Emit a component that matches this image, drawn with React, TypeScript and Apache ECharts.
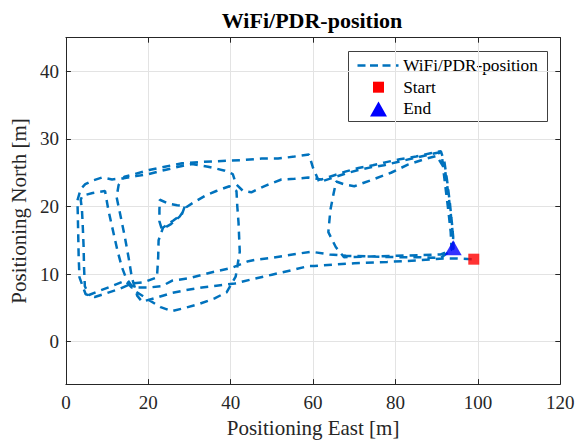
import React, { useEffect, useRef } from "react";
import * as echarts from "echarts";

// Trajectory (Positioning East / North, metres)
const east = [
  // lap 1
  98.5, 95.0, 91.7, 85.0, 78.0, 70.0, 65.0, 60.3, 59.0, 55.0, 50.0, 45.0, 41.0, 37.0, 33.0, 29.0, 25.7, 22.0, 18.5, 17.3,
  16.0, 15.2, 14.3, 13.3, 12.3, 12.8, 14.2, 16.0, 20.2, 24.0, 28.2, 33.0, 39.5, 43.5, 47.5, 51.5, 55.5, 59.0, 60.0, 61.5,
  65.0, 68.0, 71.0, 74.0, 77.2, 80.5, 84.0, 87.5, 90.5, 91.3, 91.7, 92.3, 92.9, 93.4, 93.6,
  // lap 2
  91.0, 86.0, 80.0, 74.0, 67.5, 65.5, 63.7, 64.2, 65.0, 65.6, 67.5, 70.0, 74.5, 78.9, 83.0, 87.0, 90.0, 92.0, 92.8, 93.4,
  93.9, 94.1,
  // lap 3
  91.0, 86.0, 80.0, 74.0, 68.0, 64.0, 59.6, 55.0, 50.0, 46.0, 44.3, 40.2, 35.0, 30.0, 25.7, 23.3, 20.0, 16.0, 14.4, 11.5,
  8.5, 5.6, 4.6, 4.4, 4.3, 4.1, 3.9, 3.6, 4.0, 6.5, 9.5, 10.3, 11.4, 12.5, 13.6, 14.6, 17.0, 20.0, 23.0, 25.7,
  29.0, 32.5, 36.1, 39.0, 41.2, 42.2, 41.9, 41.6, 41.4, 39.7, 36.5, 33.8, 31.0, 29.2, 27.6, 25.5, 23.3, 22.7, 22.7, 22.8,
  25.0, 27.0, 28.9, 28.2, 26.0, 23.6, 22.5, 22.4, 22.1,
  // lap 4
  19.0, 16.0, 13.0, 10.0, 7.0, 4.8, 3.3, 3.1, 3.0, 2.9, 2.8, 3.6, 4.7, 6.8, 8.8, 11.2, 14.0, 17.0, 20.0, 23.3,
  26.0, 28.2, 30.6, 34.5, 38.6, 40.5, 41.3, 43.0, 45.0, 48.5, 52.3, 55.5, 58.8, 62.0, 65.0, 68.0, 71.0, 74.5, 77.2, 81.0,
  85.0, 88.5, 91.0, 91.9, 92.6, 93.2, 93.7, 94.0, 93.9,
];
const north = [
  // lap 1
  12.2, 12.3, 12.3, 12.0, 11.8, 11.6, 11.4, 11.2, 11.2, 10.6, 9.9, 9.2, 8.6, 8.3, 8.0, 7.6, 7.2, 6.5, 5.9, 6.8,
  9.5, 12.5, 15.5, 18.5, 21.4, 23.2, 24.4, 24.7, 25.4, 25.9, 26.4, 26.6, 26.8, 26.9, 27.1, 27.1, 27.4, 27.7, 25.7, 23.6,
  24.3, 24.9, 25.4, 25.8, 26.1, 26.6, 27.1, 27.6, 28.0, 27.3, 25.0, 22.0, 19.0, 16.2, 13.6,
  // lap 2
  12.9, 12.8, 12.7, 12.6, 12.5, 14.0, 16.2, 19.5, 22.0, 23.7, 23.3, 23.0, 24.0, 25.0, 26.2, 27.0, 27.5, 25.5, 22.0, 19.0,
  16.0, 13.8,
  // lap 3
  12.4, 12.5, 12.5, 12.6, 12.7, 12.9, 13.3, 12.9, 12.4, 12.1, 11.9, 10.9, 10.2, 9.4, 9.0, 8.2, 8.0, 8.0, 9.0, 8.3,
  7.6, 6.9, 8.2, 11.0, 14.0, 17.0, 19.5, 21.0, 21.6, 22.0, 22.3, 19.5, 16.5, 13.5, 11.0, 9.4, 7.4, 6.2, 5.1, 4.5,
  5.0, 5.6, 6.4, 7.3, 9.6, 13.3, 17.6, 20.0, 22.3, 23.0, 22.3, 21.6, 20.6, 19.9, 18.5, 17.4, 16.6, 17.8, 19.5, 21.0,
  20.4, 20.2, 20.1, 18.9, 17.9, 16.9, 15.0, 12.5, 9.5,
  // lap 4
  8.8, 8.6, 7.8, 7.2, 6.6, 7.0, 9.5, 12.5, 15.5, 18.5, 20.9, 22.6, 23.3, 23.9, 24.3, 24.0, 24.2, 24.5, 24.8, 25.3,
  25.7, 26.0, 26.3, 25.9, 25.3, 24.8, 23.3, 22.3, 22.1, 23.1, 24.0, 24.1, 24.3, 24.0, 24.6, 25.2, 25.7, 26.1, 26.5, 27.0,
  27.4, 27.9, 28.2, 26.5, 23.5, 20.5, 17.5, 15.5, 13.9,
];
const startPoint = [99.0, 12.2];
const endPoint = [94.0, 13.9];
const xTicks = [0, 20, 40, 60, 80, 100, 120];
const yTicks = [0, 10, 20, 30, 40];
const seriesNames = ["WiFi/PDR-position", "Start", "End"];
const titleText = "WiFi/PDR-position";
const xName = "Positioning East [m]";
const yName = "Positioning North [m]";

const FONT = "Liberation Serif";
const AX = "#262626";

export default function App() {
  const ref = useRef<HTMLDivElement>(null);
  useEffect(() => {
    if (!ref.current) return;
    const chart = echarts.init(ref.current, null, { renderer: "svg" });
    const path = east.map((x, i) => [x, north[i]]);
    const axisLine = { show: true, onZero: false, lineStyle: { color: AX, width: 1 } };
    const tick = { show: true, inside: true, length: 5, lineStyle: { color: AX, width: 1 } };
    const tickFont = { fontFamily: FONT, fontSize: 19, color: AX, fontWeight: "normal" };
    const lx = 348, ly = 51;
    const lf = `17.3px "${FONT}", serif`;
    chart.setOption({
      animation: false,
      backgroundColor: "#ffffff",
      textStyle: { fontFamily: FONT },
      title: {
        text: titleText,
        left: 312,
        top: 9,
        textAlign: "center",
        padding: 0,
        textStyle: { fontFamily: FONT, fontSize: 22, fontWeight: "bold", color: "#000" },
      },
      grid: { left: 63.5, right: 21.7, top: 37.7, bottom: 45.7, containLabel: false },
      xAxis: [
        {
          type: "value",
          min: xTicks[0],
          max: xTicks[xTicks.length - 1],
          interval: 20,
          position: "bottom",
          axisLine,
          axisTick: tick,
          axisLabel: { ...tickFont, margin: 9 },
          splitLine: { show: true, lineStyle: { color: "#e3e3e3", width: 1 } },
          name: xName,
          nameLocation: "middle",
          nameGap: 30,
          nameTextStyle: { fontFamily: FONT, fontSize: 21, color: AX },
        },
        {
          type: "value",
          min: xTicks[0],
          max: xTicks[xTicks.length - 1],
          interval: 20,
          position: "top",
          axisLine,
          axisTick: tick,
          axisLabel: { show: false },
          splitLine: { show: false },
        },
      ],
      yAxis: [
        {
          type: "value",
          min: -6.3,
          max: 45,
          position: "left",
          axisLine,
          axisTick: { ...tick, customValues: yTicks },
          axisLabel: { ...tickFont, margin: 7, customValues: yTicks },
          splitLine: { show: true, lineStyle: { color: "#e3e3e3", width: 1 } },
          name: yName,
          nameLocation: "middle",
          nameGap: 29,
          nameTextStyle: { fontFamily: FONT, fontSize: 21, color: AX },
        },
        {
          type: "value",
          min: -6.3,
          max: 45,
          position: "right",
          axisLine,
          axisTick: { ...tick, customValues: yTicks },
          axisLabel: { show: false, customValues: yTicks },
          splitLine: { show: false },
        },
      ],
      series: [
        {
          name: seriesNames[0],
          type: "line",
          data: path,
          symbol: "none",
          showSymbol: false,
          smooth: false,
          lineStyle: { color: "#0072BD", width: 2.5, type: [8, 6] },
          z: 2,
        },
        {
          name: seriesNames[1],
          type: "scatter",
          data: [startPoint],
          symbol: "rect",
          symbolSize: 11,
          itemStyle: { color: "#FF0000" },
          z: 3,
        },
        {
          name: seriesNames[2],
          type: "scatter",
          data: [endPoint],
          symbol: "triangle",
          symbolSize: [17, 15],
          itemStyle: { color: "#0000FF" },
          z: 3,
        },
      ],
      graphic: [
        {
          type: "group",
          left: lx,
          top: ly,
          z: 100,
          children: [
            { type: "rect", shape: { x: 0, y: 0, width: 199, height: 70 }, style: { fill: "#ffffff", stroke: "#404040", lineWidth: 1 } },
            { type: "line", shape: { x1: 9, y1: 14, x2: 50, y2: 14 }, style: { stroke: "#0072BD", lineWidth: 2.5, lineDash: [8, 4.5] } },
            { type: "rect", shape: { x: 24.5, y: 30.2, width: 11, height: 11 }, style: { fill: "#FF0000" } },
            { type: "polygon", shape: { points: [[21.5, 65], [38.5, 65], [30, 50]] }, style: { fill: "#0000FF" } },
            { type: "text", x: 54.7, y: 14, style: { text: seriesNames[0], font: lf, fill: "#000", verticalAlign: "middle", align: "left" } },
            { type: "text", x: 54.7, y: 35.7, style: { text: seriesNames[1], font: lf, fill: "#000", verticalAlign: "middle", align: "left" } },
            { type: "text", x: 54.7, y: 57.3, style: { text: seriesNames[2], font: lf, fill: "#000", verticalAlign: "middle", align: "left" } },
          ],
        },
      ],
    });
    return () => chart.dispose();
  }, []);
  return <div ref={ref} style={{ position: "fixed", left: 0, top: 0, width: 582, height: 443 }} />;
}
